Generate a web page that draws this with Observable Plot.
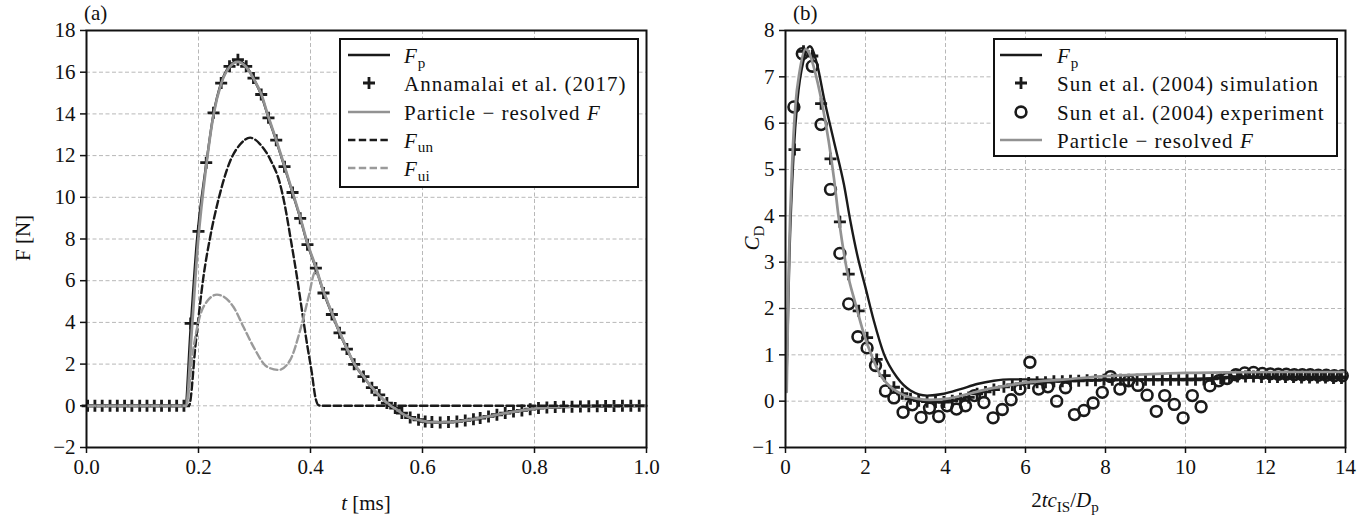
<!DOCTYPE html>
<html><head><meta charset="utf-8">
<script src="https://cdn.jsdelivr.net/npm/d3@7"></script>
<script src="https://cdn.jsdelivr.net/npm/@observablehq/plot@0.6"></script>
<style>
body{margin:0;background:#fff;}
#fig{position:relative;width:1371px;height:518px;font-family:"Liberation Serif","DejaVu Serif","Times New Roman",serif;color:#111;overflow:hidden;}
.panel{position:absolute;top:0;}
.lab{position:absolute;font-size:21px;white-space:nowrap;line-height:1;}
.legend{position:absolute;border:2.5px solid #111;background:#fff;box-sizing:border-box;}
.row{position:absolute;height:28px;line-height:28px;font-size:21px;letter-spacing:1px;white-space:nowrap;}
.sub{font-size:0.72em;position:relative;top:0.3em;letter-spacing:0;}
.sw{position:absolute;}
</style></head>
<body><div id="fig"></div>
<script>
// ---------- Panel (a): force vs time ----------
const tA_marks = [0.002,0.015,0.028,0.042,0.055,0.068,0.081,0.095,0.108,0.121,0.134,0.148,0.161,0.174,
  0.186,0.2,0.2138,0.2268,0.2405,0.2554,0.2704,0.2852,0.2982,0.312,0.325,0.3388,0.3536,0.3679,0.3816,
  0.3946,0.4096,0.4232,0.4382,0.4518,0.465,0.478,0.4946,0.5096,0.5227,0.5364,0.5513,0.5632,0.578,0.5929,
  0.6048,0.6168,0.6316,0.6464,0.6614,0.6763,0.691,0.703,0.7179,0.7329,0.7477,0.7625,0.7775,0.7923,0.8071,
  0.8221,0.837,0.852,0.867,0.882,0.897,0.912,0.927,0.942,0.957,0.972,0.987];
const fA_marks = [0,0,0,0,0,0,0,0,0,0,0,0,0,0,
  3.95,8.37,11.66,14.05,15.48,16.28,16.6,16.28,15.72,14.93,13.81,12.74,11.47,10.23,8.99,
  7.73,6.6,5.41,4.38,3.5,2.72,1.99,1.4,0.87,0.52,0.13,-0.11,-0.35,-0.56,-0.67,
  -0.75,-0.78,-0.8,-0.78,-0.75,-0.7,-0.64,-0.59,-0.51,-0.43,-0.35,-0.27,-0.22,-0.16,-0.11,
  -0.08,-0.06,-0.05,-0.04,-0.03,-0.02,-0.02,-0.01,-0.01,0,0,0];

const tA_Fp = [0,0.176,0.186,0.197,0.2138,0.2268,0.2405,0.2554,0.27,0.2852,0.2982,0.312,0.325,0.3388,0.3536,
  0.3679,0.3816,0.3946,0.4096,0.4232,0.4382,0.4518,0.465,0.478,0.4946,0.5096,0.5227,0.5364,0.5513,0.5632,
  0.578,0.5929,0.6048,0.6168,0.6316,0.6464,0.6614,0.6763,0.691,0.7179,0.7477,0.7775,0.8071,0.837,0.867,
  0.897,0.927,0.957,1.0];
const fA_Fp = [0,0,3.8,7.9,11.6,14.0,15.5,16.3,16.55,16.3,15.7,14.9,13.8,12.7,11.45,
  10.2,9.0,7.75,6.6,5.45,4.4,3.5,2.72,2.0,1.4,0.87,0.5,0.15,-0.12,-0.35,
  -0.56,-0.68,-0.75,-0.78,-0.8,-0.78,-0.75,-0.7,-0.64,-0.51,-0.35,-0.22,-0.11,-0.06,-0.04,
  -0.02,-0.01,0,0];

const tA_res = [0,0.178,0.188,0.199,0.2138,0.2268,0.2405,0.2554,0.27,0.2852,0.2982,0.312,0.325,0.3388,0.3536,
  0.3679,0.3816,0.3946,0.4096,0.4232,0.4382,0.4518,0.465,0.478,0.4946,0.5096,0.5227,0.5364,0.5513,0.5632,
  0.578,0.5929,0.6048,0.6168,0.6316,0.6464,0.6614,0.6763,0.691,0.7179,0.7477,0.7775,0.8071,0.837,0.867,
  0.897,0.927,0.957,1.0];
const fA_res = [0,0,3.6,7.8,11.5,13.95,15.45,16.25,16.5,16.25,15.7,14.95,13.85,12.75,11.5,
  10.25,9.05,7.8,6.65,5.5,4.45,3.55,2.75,2.02,1.42,0.88,0.5,0.14,-0.13,-0.36,
  -0.57,-0.68,-0.75,-0.78,-0.8,-0.78,-0.75,-0.7,-0.64,-0.51,-0.35,-0.22,-0.11,-0.06,-0.04,
  -0.02,-0.01,0,0];

const tA_Fun = [0,0.183,0.195,0.2089,0.2209,0.2357,0.2566,0.2745,0.2923,0.3102,0.328,0.346,0.355,0.364,
  0.3757,0.3846,0.3936,0.4025,0.4084,0.4143,0.42,1.0];
const fA_Fun = [0,0,3.0,6.2,8.1,9.9,11.74,12.54,12.86,12.54,11.82,10.6,9.5,8.1,6.2,4.6,3.0,1.56,0.45,0.03,0,0];

const tA_Fui = [0,0.178,0.19,0.203,0.215,0.2329,0.2625,0.2804,0.2982,0.3221,0.3429,0.3638,0.3816,0.3964,
  0.4084,0.4232,0.4382,0.4518,0.465,0.478,0.4946,0.5096,0.5227,0.5364,0.5513];
const fA_Fui = [0,0,2.6,4.34,5.0,5.33,4.74,3.78,2.83,1.88,1.72,2.2,3.63,5.2,6.41,5.5,4.45,3.55,2.75,2.02,1.42,0.88,0.5,0.14,-0.13];

const xTicksA = [0,0.2,0.4,0.6,0.8,1.0];
const yTicksA = [-2,0,2,4,6,8,10,12,14,16,18];

// ---------- Panel (b): drag coefficient ----------
const xB_Fp = [0.02,0.1,0.2,0.3,0.45,0.61,0.79,0.96,1.21,1.46,1.63,1.79,2.0,2.21,2.46,2.79,3.125,3.54,3.96,
  4.375,4.79,5.21,5.6,6.0,7.0,8.0,9.0,10.0,11.0,12.0,13.0,14.0];
const cB_Fp = [0.25,3.2,5.3,6.5,7.35,7.66,7.27,6.55,5.61,4.68,3.85,3.17,2.45,1.73,1.02,0.51,0.23,0.12,0.16,
  0.26,0.37,0.44,0.47,0.47,0.46,0.46,0.47,0.48,0.5,0.51,0.52,0.53];

const xB_res = [0.03,0.08,0.17,0.25,0.35,0.5,0.6,0.71,0.92,1.08,1.21,1.33,1.54,1.75,1.96,2.17,2.375,2.625,
  2.96,3.3,3.6,4.0,4.5,5.0,5.5,6.0,7.0,8.0,9.0,10.0,11.0,12.0,13.0,14.0];
const cB_res = [0.2,2.8,5.2,6.4,7.1,7.6,7.5,7.2,6.4,5.61,4.82,3.96,2.81,2.1,1.45,0.95,0.56,0.31,
  0.13,0.05,0.03,0.05,0.14,0.25,0.33,0.4,0.47,0.54,0.58,0.61,0.62,0.63,0.63,0.63];

const xB_sim = [0.225,0.45,0.67,0.89,1.125,1.36,1.58,1.83,2.04,2.28,2.48,2.71,2.92,3.125,3.33,3.54,3.75,3.96,
  4.17,4.375,4.58,4.79,5.0,5.21,5.46,5.67,5.875,6.08,6.29,6.5,6.71,6.92,7.125,7.33,7.54,7.75,7.96,8.17,
  8.375,8.58,8.79,9.0,9.2,9.42,9.625,9.83,10.04,10.25,10.46,10.67,10.88,11.1,11.3,11.5,11.7,11.9,12.1,
  12.3,12.5,12.7,12.9,13.1,13.3,13.5,13.7,13.9];
const cB_sim = [5.43,7.55,7.45,6.42,5.23,3.87,2.74,1.95,1.37,0.9,0.55,0.3,0.16,0.05,0.01,-0.01,-0.02,-0.02,
  0.01,0.05,0.08,0.16,0.2,0.25,0.31,0.35,0.37,0.39,0.41,0.41,0.43,0.43,0.44,0.44,0.45,0.45,0.46,0.46,
  0.46,0.46,0.46,0.46,0.46,0.46,0.46,0.46,0.46,0.46,0.47,0.48,0.5,0.52,0.53,0.53,0.53,0.52,0.52,
  0.52,0.52,0.52,0.51,0.51,0.51,0.51,0.5,0.5];

const xB_exp = [0.21,0.42,0.67,0.89,1.125,1.36,1.58,1.81,2.04,2.25,2.5,2.71,2.94,3.17,3.39,3.6,3.83,4.04,
  4.275,4.5,4.725,4.96,5.19,5.42,5.64,5.86,6.11,6.33,6.56,6.78,7.0,7.225,7.46,7.69,7.92,8.125,8.36,8.58,
  8.81,9.04,9.27,9.48,9.72,9.94,10.17,10.39,10.61,10.83,11.04,11.26,11.48,11.7,11.92,12.12,12.32,12.52,
  12.72,12.92,13.12,13.32,13.52,13.72,13.92];
const cB_exp = [6.35,7.5,7.23,5.97,4.57,3.19,2.1,1.39,1.15,0.77,0.22,0.07,-0.24,-0.08,-0.35,-0.15,-0.33,-0.1,
  -0.17,-0.1,0.12,-0.03,-0.36,-0.18,0.03,0.26,0.84,0.26,0.31,0.0,0.29,-0.29,-0.2,-0.04,0.19,0.53,0.26,0.44,
  0.34,0.13,-0.22,0.12,-0.07,-0.36,0.12,-0.12,0.33,0.44,0.49,0.57,0.61,0.62,0.6,0.59,0.58,0.58,
  0.57,0.57,0.57,0.56,0.56,0.55,0.55];

const xTicksB = [0,2,4,6,8,10,12,14];
const yTicksB = [-1,0,1,2,3,4,5,6,7,8];

// ---------- drawing ----------
const BLACK = "#1a1a1a", GRAY = "#929292", GRAYD = "#9a9a9a";
const gridStyle = {stroke: "#b8b8b8", strokeOpacity: 1, strokeWidth: 1, strokeDasharray: "4,2.5"};
const minusFmt = d => (d < 0 ? "\u2212" + Math.abs(d) : String(d));
const PLUS_HALF = 6;
const plusSymbol = {draw(ctx) {
  ctx.moveTo(-PLUS_HALF, 0); ctx.lineTo(PLUS_HALF, 0);
  ctx.moveTo(0, -PLUS_HALF); ctx.lineTo(0, PLUS_HALF);
}};
const CIRC_R = 5.4;

function panel({xDomain, yDomain, xTicks, yTicks, xFmt, marginLeft, marginRight, marks}) {
  return Plot.plot({
    width: 686, height: 518, marginTop: 30, marginBottom: 71, marginLeft, marginRight,
    style: {fontFamily: '"Liberation Serif","DejaVu Serif",serif', fontSize: "21px", color: "#111", background: "transparent"},
    x: {domain: xDomain}, y: {domain: yDomain},
    marks: [
      Plot.gridX(xTicks, gridStyle),
      Plot.gridY(yTicks, gridStyle),
      ...marks,
      Plot.axisX(xTicks, {tickSize: 6, tickPadding: 6, strokeWidth: 1.5, tickFormat: xFmt, label: null, fontSize: 21}),
      Plot.axisY(yTicks, {tickSize: 6, tickPadding: 5, strokeWidth: 1.5, tickFormat: minusFmt, label: null, fontSize: 21}),
      Plot.frame({stroke: "#111", strokeWidth: 2})
    ]
  });
}

const plotA = panel({
  xDomain: [0, 1], yDomain: [-2, 18], xTicks: xTicksA, yTicks: yTicksA,
  xFmt: d3.format(".1f"), marginLeft: 86, marginRight: 40,
  marks: [
    Plot.line(tA_Fp, {x: tA_Fp, y: fA_Fp, stroke: BLACK, strokeWidth: 2.3, curve: "monotone-x"}),
    Plot.dot(tA_marks, {x: tA_marks, y: fA_marks, symbol: plusSymbol, fill: "none", stroke: BLACK, strokeWidth: 2.8}),
    Plot.line(tA_res, {x: tA_res, y: fA_res, stroke: GRAY, strokeWidth: 2.7, curve: "monotone-x"}),
    Plot.line(tA_Fun, {x: tA_Fun, y: fA_Fun, stroke: BLACK, strokeWidth: 2.4, strokeDasharray: "7.4,3.4", curve: "monotone-x"}),
    Plot.line(tA_Fui, {x: tA_Fui, y: fA_Fui, stroke: GRAYD, strokeWidth: 2.4, strokeDasharray: "7.4,3.4", curve: "monotone-x"})
  ]
});

const plotB = panel({
  xDomain: [0, 14], yDomain: [-1, 8], xTicks: xTicksB, yTicks: yTicksB,
  xFmt: d => String(d), marginLeft: 100, marginRight: 26,
  marks: [
    Plot.line(xB_Fp, {x: xB_Fp, y: cB_Fp, stroke: BLACK, strokeWidth: 2.4, curve: "monotone-x"}),
    Plot.dot(xB_sim, {x: xB_sim, y: cB_sim, symbol: plusSymbol, fill: "none", stroke: BLACK, strokeWidth: 2.8}),
    Plot.dot(xB_exp, {x: xB_exp, y: cB_exp, symbol: "circle", r: CIRC_R, fill: "none", stroke: BLACK, strokeWidth: 2.6}),
    Plot.line(xB_res, {x: xB_res, y: cB_res, stroke: GRAY, strokeWidth: 2.7, curve: "monotone-x"})
  ]
});

const fig = document.getElementById("fig");
plotA.classList.add("panel"); plotA.style.left = "0px";
plotB.classList.add("panel"); plotB.style.left = "685px";
fig.appendChild(plotA); fig.appendChild(plotB);

function addHTML(html) { fig.insertAdjacentHTML("beforeend", html); }

// panel labels and axis titles
addHTML(`<div class="lab" style="left:84px;top:3px">(a)</div>`);
addHTML(`<div class="lab" style="left:793px;top:3px">(b)</div>`);
addHTML(`<div class="lab" style="left:366px;top:493px;transform:translateX(-50%)"><i>t</i> [ms]</div>`);
addHTML(`<div class="lab" style="left:1065px;top:490px;transform:translateX(-50%)">2<i>tc</i><span class="sub">IS</span>/<i>D</i><span class="sub">p</span></div>`);
addHTML(`<div class="lab" style="left:23px;top:238px;transform:translate(-50%,-50%) rotate(-90deg)">F [N]</div>`);
addHTML(`<div class="lab" style="left:752px;top:238px;transform:translate(-50%,-50%) rotate(-90deg)"><i>C</i><span class="sub">D</span></div>`);

// legends
function swatch(kind, x, cy) {
  let inner = "";
  if (kind.type === "line") {
    inner = `<line x1="0" y1="8" x2="42" y2="8" stroke="${kind.color}" stroke-width="${kind.w}" ${kind.dash ? `stroke-dasharray="${kind.dash}"` : ""}/>`;
  } else if (kind.type === "plus") {
    inner = `<path d="M${21 - PLUS_HALF},8H${21 + PLUS_HALF}M21,${8 - PLUS_HALF}V${8 + PLUS_HALF}" stroke="${BLACK}" stroke-width="2.8" fill="none"/>`;
  } else if (kind.type === "circle") {
    inner = `<circle cx="21" cy="8" r="${CIRC_R}" stroke="${BLACK}" stroke-width="2.6" fill="none"/>`;
  }
  addHTML(`<svg class="sw" width="42" height="16" style="left:${x}px;top:${cy - 8}px">${inner}</svg>`);
}
function legend(box, rows, swX, textX, y0, dy) {
  addHTML(`<div class="legend" style="left:${box[0]}px;top:${box[1]}px;width:${box[2]}px;height:${box[3]}px"></div>`);
  rows.forEach((r, i) => {
    const cy = y0 + i * dy;
    swatch(r.kind, swX, cy - 1);
    addHTML(`<div class="row" style="left:${textX}px;top:${cy - 14}px">${r.label}</div>`);
  });
}

const legendA = [
  {label: `<i>F</i><span class="sub">p</span>`, kind: {type: "line", color: BLACK, w: 2.3}},
  {label: `Annamalai et al. (2017)`, kind: {type: "plus"}},
  {label: `Particle \u2212 resolved <i>F</i>`, kind: {type: "line", color: GRAY, w: 2.7}},
  {label: `<i>F</i><span class="sub">un</span>`, kind: {type: "line", color: BLACK, w: 2.4, dash: "7.4,3.4"}},
  {label: `<i>F</i><span class="sub">ui</span>`, kind: {type: "line", color: GRAYD, w: 2.4, dash: "7.4,3.4"}}
];
legend([339, 38, 300, 150], legendA, 348, 404, 56, 28.3);

const legendB = [
  {label: `<i>F</i><span class="sub">p</span>`, kind: {type: "line", color: BLACK, w: 2.4}},
  {label: `Sun et al. (2004) simulation`, kind: {type: "plus"}},
  {label: `Sun et al. (2004) experiment`, kind: {type: "circle"}},
  {label: `Particle \u2212 resolved <i>F</i>`, kind: {type: "line", color: GRAY, w: 2.7}}
];
legend([993, 38, 345, 119], legendB, 1000, 1057, 56, 28.3);
</script>
</body></html>
